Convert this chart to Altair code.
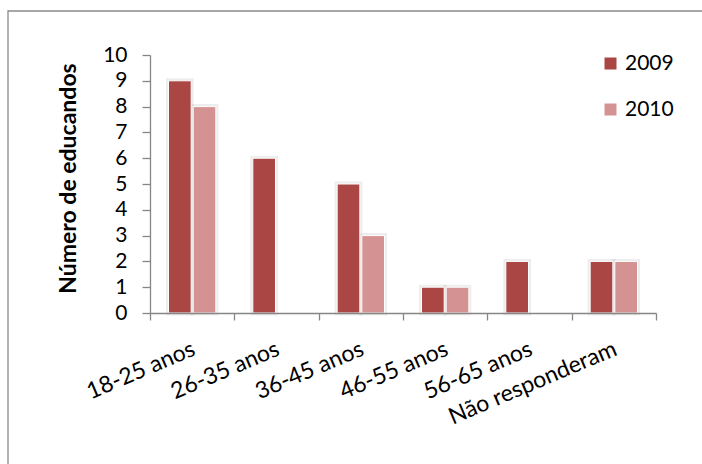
import altair as alt
import pandas as pd

# Age groups and number of learners per year
categories = ["18-25 anos", "26-35 anos", "36-45 anos", "46-55 anos", "56-65 anos", "Não responderam"]
years = ["2009", "2010"]
values_2009 = [9, 6, 5, 1, 2, 2]
values_2010 = [8, 0, 3, 1, 0, 2]
y_ticks = list(range(0, 11))
colors = ["#AA4643", "#D49392"]

FONT = "Lato"
AXIS_GRAY = "#868686"

rows = []
for cat, v09, v10 in zip(categories, values_2009, values_2010):
    rows.append({"faixa": cat, "ano": "2009", "n": v09})
    rows.append({"faixa": cat, "ano": "2010", "n": v10})
df = pd.DataFrame(rows)

x_enc = alt.X(
    "faixa:N",
    sort=categories,
    title=None,
    scale=alt.Scale(domain=categories, paddingInner=0, paddingOuter=0),
    axis=alt.Axis(
        tickBand="extent",
        labelAngle=337,
        labelAlign="right",
        labelBaseline="alphabetic",
        labelPadding=34,
        labelOffset=4,
        labelFont=FONT,
        labelFontSize=23,
        labelColor="#000000",
        tickSize=7,
        tickColor=AXIS_GRAY,
        tickWidth=1.3,
        domainColor=AXIS_GRAY,
        domainWidth=1.3,
        grid=False,
        zindex=1,
    ),
)
xoff_enc = alt.XOffset(
    "ano:N", scale=alt.Scale(domain=years, paddingInner=0.08, paddingOuter=0.75)
)
y_enc = alt.Y(
    "n:Q",
    scale=alt.Scale(domain=[0, 10], nice=False),
    axis=alt.Axis(
        values=y_ticks,
        title="Número de educandos",
        titleFont=FONT,
        titleFontSize=23,
        titleFontWeight="bold",
        titleColor="#000000",
        titleAngle=270,
        titleAlign="center",
        titleBaseline="middle",
        titleX=-82,
        titleY=123,
        labelFont=FONT,
        labelFontSize=21,
        labelColor="#000000",
        labelPadding=15,
        labelBaseline="middle",
        tickSize=8,
        tickColor=AXIS_GRAY,
        tickWidth=1.3,
        domainColor=AXIS_GRAY,
        domainWidth=1.3,
        grid=False,
        zindex=1,
    ),
)
color_enc = alt.Color(
    "ano:N",
    scale=alt.Scale(domain=years, range=colors),
    legend=alt.Legend(
        title=None,
        orient="none",
        legendX=450,
        legendY=-2,
        symbolType="square",
        symbolSize=144,
        symbolStrokeWidth=0,
        labelFont=FONT,
        labelFontSize=21,
        labelColor="#000000",
        labelOffset=4,
        rowPadding=24,
        padding=0,
    ),
)

base = alt.Chart(df).transform_filter("datum.n > 0")

# soft halo behind each bar
halo = base.mark_bar(
    fillOpacity=0, stroke="#000000", strokeOpacity=0.07, strokeWidth=5
).encode(x=x_enc, xOffset=xoff_enc, y=y_enc)

bars = base.mark_bar(stroke="white", strokeWidth=1).encode(
    x=x_enc, xOffset=xoff_enc, y=y_enc, color=color_enc
)

# chart frame: top and left edges fall inside the page, the rest runs past it
frame = alt.Chart(alt.Data(values=[{}])).mark_rect(
    fill="transparent", stroke="#8A8A8A", strokeWidth=1.3
).encode(
    x=alt.value(-142), x2=alt.value(900), y=alt.value(-44), y2=alt.value(700)
)

chart = (
    alt.layer(frame, halo, bars)
    .properties(
        width=506,
        height=258,
        padding={"left": 150, "top": 55, "right": 46, "bottom": 151},
        autosize=alt.AutoSizeParams(type="none"),
        background="white",
    )
    .configure_view(strokeWidth=0)
)

chart.save("out.html", embed_options={"renderer": "svg", "actions": False})
